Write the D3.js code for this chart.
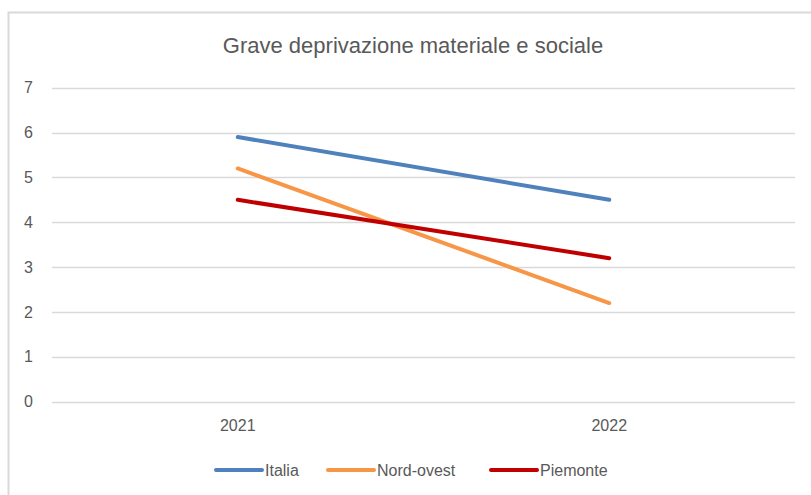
<!DOCTYPE html>
<html>
<head>
<meta charset="utf-8">
<script src="https://cdn.jsdelivr.net/npm/d3@7"></script>
<style>
  body { margin: 0; background: #fff; }
  text { font-family: "Liberation Sans", Arial, sans-serif; fill: #595959; }
</style>
</head>
<body>
<div id="chart"></div>
<script>
// Data
var years = ["2021", "2022"];
var seriesNames = ["Italia", "Nord-ovest", "Piemonte"];
var italia = [5.9, 4.5];
var nordOvest = [5.2, 2.2];
var piemonte = [4.5, 3.2];
var yTicks = [0, 1, 2, 3, 4, 5, 6, 7];
var colors = ["#4f81bd", "#f79646", "#c00000"];

var series = [italia, nordOvest, piemonte].map(function(vals, i) {
    return { name: seriesNames[i], color: colors[i],
             values: vals.map(function(v, j) { return { year: years[j], value: v }; }) };
});

var W = 811, H = 495;
var margin = {top: 88, right: 16, bottom: 93, left: 52};

var svg = d3.select("#chart").append("svg")
    .attr("width", W)
    .attr("height", H);

// chart frame (cut off on right and bottom)
svg.append("path")
    .attr("d", "M8.5," + (H + 2) + "V12.5H" + (W + 2))
    .attr("fill", "none")
    .attr("stroke", "#d9d9d9")
    .attr("stroke-width", 2);

var x = d3.scaleBand()
    .domain(years)
    .range([margin.left, 795]);

var y = d3.scaleLinear()
    .domain([0, 7])
    .range([401.7, 87.7]);

// gridlines
svg.append("g").selectAll("line")
    .data(yTicks)
  .enter().append("line")
    .attr("x1", margin.left)
    .attr("x2", 795)
    .attr("y1", d => Math.round(y(d)) + 0.5)
    .attr("y2", d => Math.round(y(d)) + 0.5)
    .attr("stroke", "#d9d9d9")
    .attr("stroke-width", 1.5);

// y axis labels
var yAxis = d3.axisLeft(y).tickValues(yTicks).tickFormat(d3.format("d")).tickSize(0).tickPadding(0);
var gy = svg.append("g")
    .attr("transform", "translate(33,0)")
    .call(yAxis);
gy.select(".domain").remove();
gy.selectAll("text")
    .attr("font-size", 16)
    .attr("font-family", null)
    .attr("fill", null)
    .attr("text-anchor", "end");

// x axis labels
var xAxis = d3.axisBottom(x).tickSize(0).tickPadding(0);
var gx = svg.append("g")
    .attr("transform", "translate(0,420)")
    .call(xAxis);
gx.select(".domain").remove();
gx.selectAll("text")
    .attr("font-size", 16)
    .attr("font-family", null)
    .attr("fill", null);

// title
svg.append("text")
    .attr("x", 413)
    .attr("y", 53)
    .attr("text-anchor", "middle")
    .attr("font-size", 22)
    .text("Grave deprivazione materiale e sociale");

// lines
var line = d3.line()
    .x(d => x(d.year) + x.bandwidth() / 2)
    .y(d => y(d.value));

svg.append("g").selectAll("path")
    .data(series)
  .enter().append("path")
    .attr("d", d => line(d.values))
    .attr("fill", "none")
    .attr("stroke", d => d.color)
    .attr("stroke-width", 4)
    .attr("stroke-linecap", "round");

// legend
var legendX = [216, 328, 491];
var legend = svg.append("g").selectAll("g")
    .data(series)
  .enter().append("g")
    .attr("transform", (d, i) => "translate(" + legendX[i] + ",470)");

legend.append("line")
    .attr("x1", 0)
    .attr("x2", 46)
    .attr("stroke", d => d.color)
    .attr("stroke-width", 4)
    .attr("stroke-linecap", "round");

legend.append("text")
    .attr("x", 49)
    .attr("dy", "0.36em")
    .attr("font-size", 16)
    .text(d => d.name);
</script>
</body>
</html>
